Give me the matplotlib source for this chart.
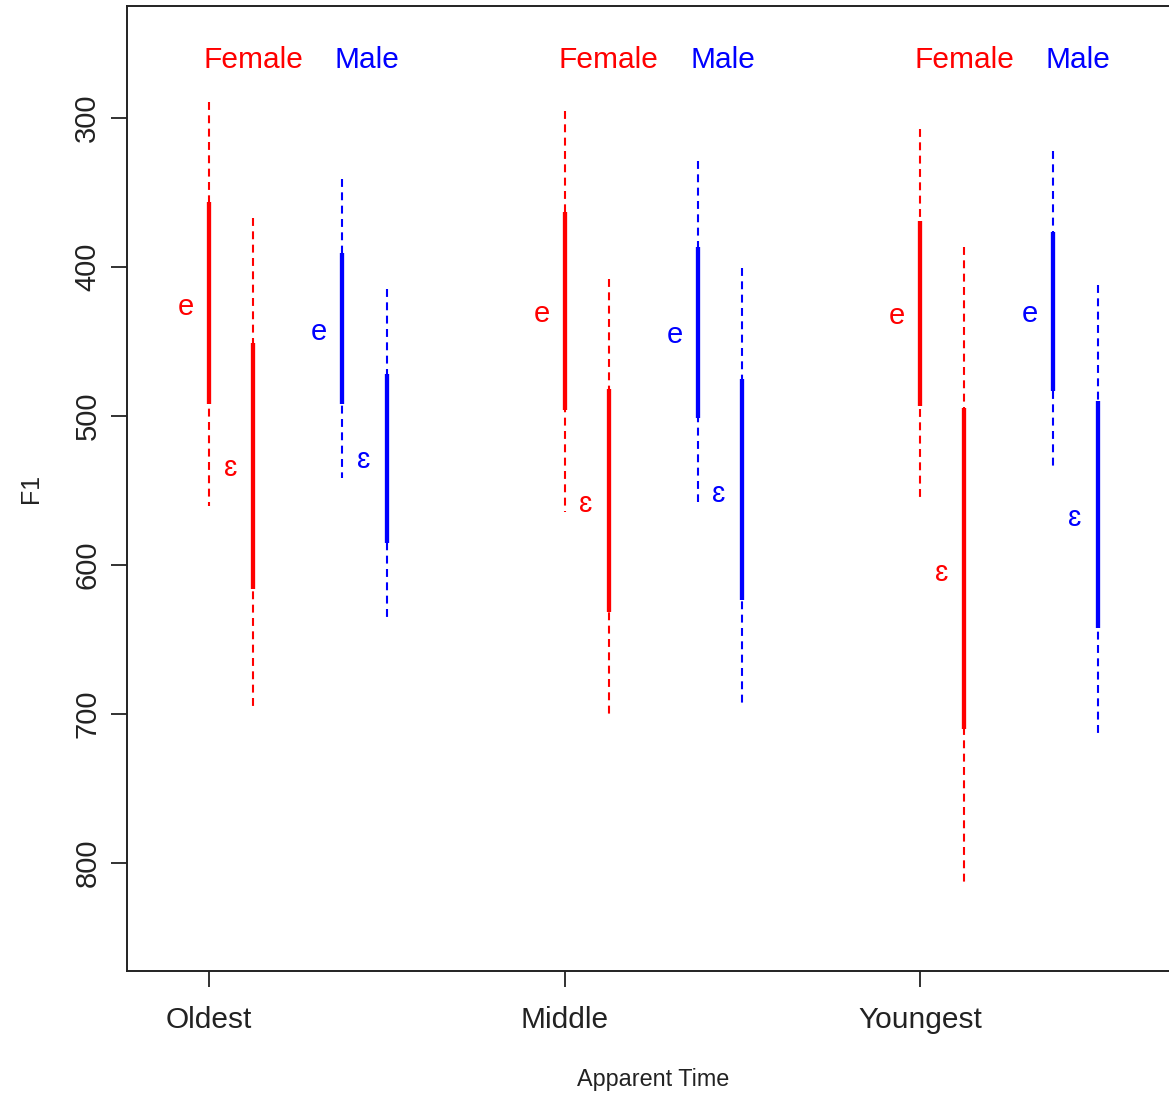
import matplotlib
matplotlib.use("Agg")
import matplotlib.pyplot as plt

plt.rcParams['font.family'] = ['Liberation Sans', 'DejaVu Sans']

groups = ['Oldest', 'Middle', 'Youngest']
yticks = [300, 400, 500, 600, 700, 800]

# Female /e/
fe_range_lo = [289.3, 295.3, 307.4]
fe_sd_lo = [356.3, 363.0, 369.0]
fe_mean = [427.3, 432.0, 433.3]
fe_sd_hi = [492.2, 496.2, 493.6]
fe_range_hi = [560.5, 564.6, 555.9]

# Female /ɛ/
feps_range_lo = [367.6, 408.5, 387.0]
feps_sd_lo = [451.4, 482.2, 495.0]
feps_mean = [535.0, 559.0, 605.4]
feps_sd_hi = [616.0, 631.5, 710.5]
feps_range_hi = [698.5, 702.5, 815.0]

# Male /e/
me_range_lo = [340.9, 328.8, 322.0]
me_sd_lo = [391.1, 387.0, 376.4]
me_mean = [444.0, 446.0, 432.0]
me_sd_hi = [492.2, 501.6, 483.5]
me_range_hi = [541.8, 557.9, 533.8]

# Male /ɛ/
meps_range_lo = [415.2, 401.0, 412.5]
meps_sd_lo = [472.1, 475.5, 490.2]
meps_mean = [530.0, 552.5, 568.6]
meps_sd_hi = [585.3, 623.5, 642.3]
meps_range_hi = [636.9, 695.2, 716.6]

W, H = 1169, 1094
fig = plt.figure(figsize=(W / 100, H / 100), dpi=100)
ax_left, ax_right, ax_top, ax_bottom = 127, 1179, 6, 971
ax = fig.add_axes([ax_left / W, 1 - ax_bottom / H,
                   (ax_right - ax_left) / W, (ax_bottom - ax_top) / H])

series = [
    (fe_range_lo, fe_sd_lo, fe_mean, fe_sd_hi, fe_range_hi, 0.0, 'red', 'e'),
    (feps_range_lo, feps_sd_lo, feps_mean, feps_sd_hi, feps_range_hi, 0.125, 'red', '\u025b'),
    (me_range_lo, me_sd_lo, me_mean, me_sd_hi, me_range_hi, 0.375, 'blue', 'e'),
    (meps_range_lo, meps_sd_lo, meps_mean, meps_sd_hi, meps_range_hi, 0.5, 'blue', '\u025b'),
]

for rlo, slo, mn, shi, rhi, off, col, lab in series:
    for i in range(len(groups)):
        x = i + 1 + off
        ax.plot([x, x], [rlo[i], rhi[i]], color=col, lw=1.5,
                linestyle=(0, (3.8, 2.6)), dash_capstyle='butt', zorder=2)
        ax.plot([x, x], [slo[i], shi[i]], color=col, lw=3.1,
                solid_capstyle='butt', zorder=3)
        ax.text(x - 0.065, mn[i], lab, color=col, fontsize=21,
                ha='center', va='center', zorder=4)

for i in range(len(groups)):
    ax.text(i + 1 + 0.124, 261.5, 'Female', color='red', fontsize=21.5,
            ha='center', va='center')
    ax.text(i + 1 + 0.445, 261.5, 'Male', color='blue', fontsize=21.5,
            ha='center', va='center')

px_per_unit = 355.5
x0 = 1 - (209 - ax_left) / px_per_unit
x1 = 1 + (ax_right - 209) / px_per_unit
ax.set_xlim(x0, x1)
ax.set_ylim(872.7, 225.0)

ax.set_xticks(range(1, len(groups) + 1))
ax.set_xticklabels(groups, fontsize=21.5, color='#222222')
ax.set_yticks(yticks)
ax.set_yticklabels([str(v) for v in yticks], fontsize=21, color='#222222',
                   rotation=90, va='center')
ax.tick_params(axis='both', length=11.5, width=1.3, color='#222222')
ax.tick_params(axis='x', pad=14)
ax.tick_params(axis='y', pad=7)

for s in ax.spines.values():
    s.set_linewidth(1.4)
    s.set_color('#222222')

ax.set_xlabel('Apparent Time', fontsize=16.8, color='#222222')
ax.xaxis.set_label_coords(0.5, -0.1005)
ax.set_ylabel('F1', fontsize=18, color='#222222')
ax.yaxis.set_label_coords(-0.080, 0.5)

fig.savefig('out.png', dpi=100)
